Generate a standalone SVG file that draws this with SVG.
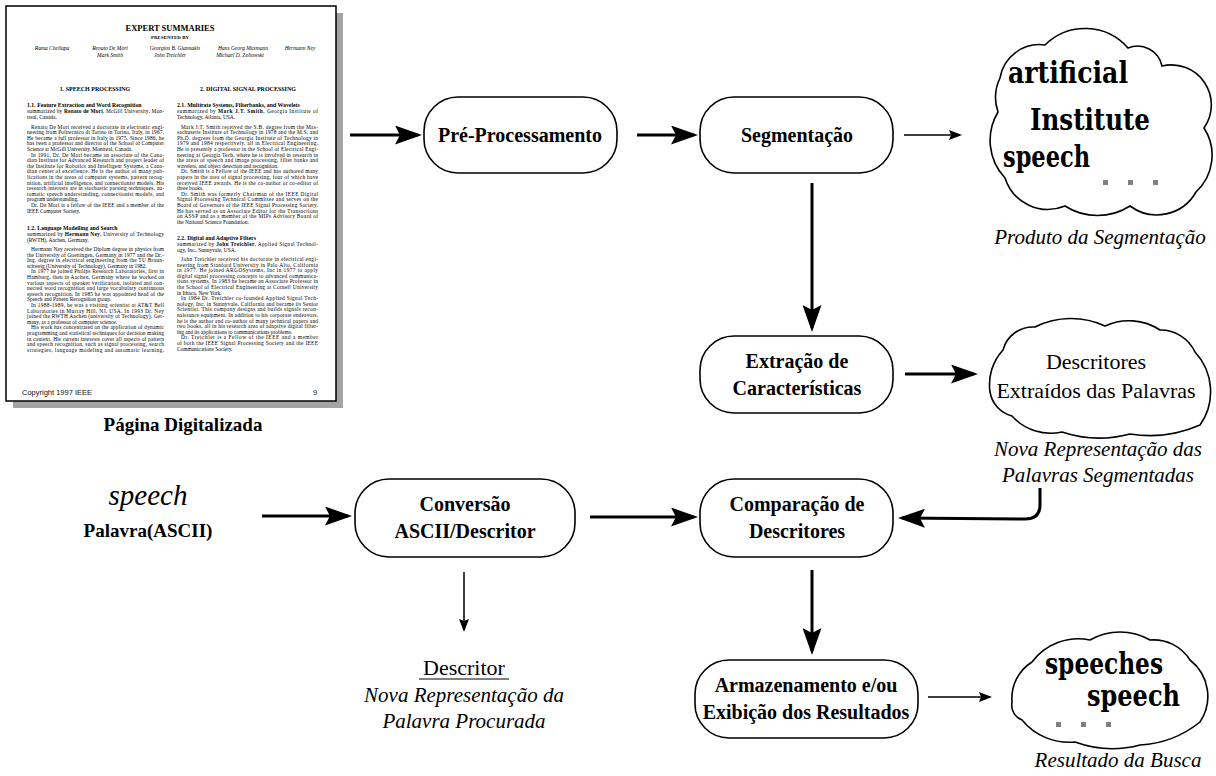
<svg xmlns="http://www.w3.org/2000/svg" width="1216" height="776" viewBox="0 0 1216 776">
<style>
.pg{font-family:"Liberation Serif",serif;font-size:5.4px;fill:#000}
.b{font-weight:bold}
.it{font-style:italic}
.node rect{fill:#fff;stroke:#000;stroke-width:1.6}
.nl{font-family:"Liberation Serif",serif;font-weight:bold;font-size:20px;text-anchor:middle;fill:#000}
.cap{font-family:"Liberation Serif",serif;font-style:italic;font-size:21px;text-anchor:middle;fill:#000}
.rg{font-family:"Liberation Serif",serif;font-size:22px;text-anchor:middle;fill:#000}
.cw{font-family:"DejaVu Serif",serif;font-weight:bold;font-size:29px;fill:#000}
.cloud{fill:#fff;stroke:#000;stroke-width:1.6}
.dot{fill:#808080}
.thick{fill:none;stroke:#000;stroke-width:3;marker-end:url(#ah)}
.thin{fill:none;stroke:#000;stroke-width:1.5;marker-end:url(#as)}
</style>
<defs>
<marker id="ah" viewBox="0 0 27 19" refX="23" refY="9.5" markerWidth="27" markerHeight="19" markerUnits="userSpaceOnUse" orient="auto"><path d="M0,0 L27,9.5 L0,19 L5,9.5 z" fill="#000"/></marker>
<marker id="as" viewBox="0 0 13 10" refX="11" refY="5" markerWidth="13" markerHeight="10" markerUnits="userSpaceOnUse" orient="auto"><path d="M0,0 L13,5 L0,10 L2,5 z" fill="#000"/></marker>
</defs>
<rect width="1216" height="776" fill="#fff"/>

<g id="page">
<rect x="13" y="13" width="330" height="395" fill="#a3a3a3"/>
<rect x="6" y="6" width="330" height="395" fill="#fff" stroke="#000" stroke-width="1.5"/>
<text class="pg b" x="170" y="31" text-anchor="middle" style="font-size:8.5px">EXPERT SUMMARIES</text>
<text class="pg b" x="170" y="39" text-anchor="middle" style="font-size:5px">PRESENTED BY</text>
<g class="pg it" text-anchor="middle" style="font-size:5.5px">
<text x="52" y="50">Rama Chellapa</text>
<text x="110" y="50">Renato De Mori</text>
<text x="175" y="50">Georgios B. Giannakis</text>
<text x="243" y="50">Hans Georg Musmann</text>
<text x="300" y="50">Hermann Ney</text>
<text x="110" y="57">Mark Smith</text>
<text x="170" y="57">John Treichler</text>
<text x="240" y="57">Michael D. Zoltowski</text>
</g>
<text class="pg b" x="95" y="91" text-anchor="middle" style="font-size:6px">1.   SPEECH PROCESSING</text>
<text class="pg b" x="248" y="91" text-anchor="middle" style="font-size:6px">2.   DIGITAL SIGNAL PROCESSING</text>
<g class="pg">
<text class="b" x="27" y="107" style="font-size:5.8px">1.1.   Feature Extraction and Word Recognition</text>
<text x="27" y="113" textLength="137">summarized by <tspan class="b">Renato de Mori</tspan>, McGill University, Mon-</text>
<text x="27" y="119">treal, Canada.</text>
<text x="31" y="128.5" textLength="133">Renato De Mori received a doctorate in electronic engi-</text>
<text x="27" y="134.1" textLength="137">neering from Politecnico di Torino in Torino, Italy, in 1967.</text>
<text x="27" y="139.7" textLength="137">He became a full professor in Italy in 1975. Since 1986, he</text>
<text x="27" y="145.3" textLength="137">has been a professor and director of the School of Computer</text>
<text x="27" y="150.9">Science at McGill University, Montreal, Canada.</text>
<text x="31" y="156.5" textLength="133">In 1991, Dr. De Mori became an associate of the Cana-</text>
<text x="27" y="162.1" textLength="137">dian Institute for Advanced Research and project leader of</text>
<text x="27" y="167.7" textLength="137">the Institute for Robotics and Intelligent Systems, a Cana-</text>
<text x="27" y="173.3" textLength="137">dian center of excellence. He is the author of many pub-</text>
<text x="27" y="178.9" textLength="137">lications in the areas of computer systems, pattern recog-</text>
<text x="27" y="184.5" textLength="137">nition, artificial intelligence, and connectionist models. His</text>
<text x="27" y="190.1" textLength="137">research interests are in stochastic parsing techniques, au-</text>
<text x="27" y="195.7" textLength="137">tomatic speech understanding, connectionist models, and</text>
<text x="27" y="201.3">program understanding.</text>
<text x="31" y="206.9" textLength="133">Dr. De Mori is a fellow of the IEEE and a member of the</text>
<text x="27" y="212.5">IEEE Computer Society.</text>
<text class="b" x="27" y="230" style="font-size:5.8px">1.2.   Language Modelling and Search</text>
<text x="27" y="236" textLength="137">summarized by <tspan class="b">Hermann Ney</tspan>, University of Technology</text>
<text x="27" y="242">(RWTH), Aachen, Germany.</text>
<text x="31" y="251" textLength="133">Hermann Ney received the Diplom degree in physics from</text>
<text x="27" y="256.6" textLength="137">the University of Goettingen, Germany in 1977 and the Dr.-</text>
<text x="27" y="262.2" textLength="137">Ing. degree in electrical engineering from the TU Braun-</text>
<text x="27" y="267.8">schweig (University of Technology), Germany in 1982.</text>
<text x="31" y="273.4" textLength="133">In 1977 he joined Philips Research Laboratories, first in</text>
<text x="27" y="279" textLength="137">Hamburg, then in Aachen, Germany where he worked on</text>
<text x="27" y="284.6" textLength="137">various aspects of speaker verification, isolated and con-</text>
<text x="27" y="290.2" textLength="137">nected word recognition and large vocabulary continuous</text>
<text x="27" y="295.8" textLength="137">speech recognition. In 1985 he was appointed head of the</text>
<text x="27" y="301.4">Speech and Pattern Recognition group.</text>
<text x="31" y="307" textLength="133">In 1988-1989, he was a visiting scientist at AT&amp;T Bell</text>
<text x="27" y="312.6" textLength="137">Laboratories in Murray Hill, NJ, USA. In 1993 Dr. Ney</text>
<text x="27" y="318.2" textLength="137">joined the RWTH Aachen (university of Technology), Ger-</text>
<text x="27" y="323.8">many, as a professor of computer science.</text>
<text x="31" y="329.4" textLength="133">His work has concentrated on the application of dynamic</text>
<text x="27" y="335" textLength="137">programming and statistical techniques for decision making</text>
<text x="27" y="340.6" textLength="137">in context. His current interests cover all aspects of pattern</text>
<text x="27" y="346.2" textLength="137">and speech recognition, such as signal processing, search</text>
<text x="27" y="351.8" textLength="137">strategies, language modeling and automatic learning.</text>

<text class="b" x="177" y="107" style="font-size:5.8px">2.1.   Multirate Systems, Filterbanks, and Wavelets</text>
<text x="177" y="113" textLength="141">summarized by <tspan class="b">Mark J.T. Smith</tspan>, Georgia Institute of</text>
<text x="177" y="119">Technology, Atlanta, USA.</text>
<text x="181" y="128.5" textLength="137">Mark J.T. Smith received the S.B. degree from the Mas-</text>
<text x="177" y="134.1" textLength="141">sachusetts Institute of Technology in 1978 and the M.S. and</text>
<text x="177" y="139.7" textLength="141">Ph.D. degrees from the Georgia Institute of Technology in</text>
<text x="177" y="145.3" textLength="141">1979 and 1984 respectively, all in Electrical Engineering.</text>
<text x="177" y="150.9" textLength="141">He is presently a professor in the School of Electrical Engi-</text>
<text x="177" y="156.5" textLength="141">neering at Georgia Tech, where he is involved in research in</text>
<text x="177" y="162.1" textLength="141">the areas of speech and image processing, filter banks and</text>
<text x="177" y="167.7">wavelets, and object detection and recognition.</text>
<text x="181" y="173.3" textLength="137">Dr. Smith is a Fellow of the IEEE and has authored many</text>
<text x="177" y="178.9" textLength="141">papers in the area of signal processing, four of which have</text>
<text x="177" y="184.5" textLength="141">received IEEE awards. He is the co-author or co-editor of</text>
<text x="177" y="190.1">three books.</text>
<text x="181" y="195.7" textLength="137">Dr. Smith was formerly Chairman of the IEEE Digital</text>
<text x="177" y="201.3" textLength="141">Signal Processing Technical Committee and serves on the</text>
<text x="177" y="206.9" textLength="141">Board of Governors of the IEEE Signal Processing Society.</text>
<text x="177" y="212.5" textLength="141">He has served as an Associate Editor for the Transactions</text>
<text x="177" y="218.1" textLength="141">on ASSP and as a member of the MIPs Advisory Board of</text>
<text x="177" y="223.7">the National Science Foundation.</text>
<text class="b" x="177" y="240" style="font-size:5.8px">2.2.   Digital and Adaptive Filters</text>
<text x="177" y="246" textLength="141">summarized by <tspan class="b">John Treichler</tspan>, Applied Signal Technol-</text>
<text x="177" y="252">ogy, Inc., Sunnyvale, USA.</text>
<text x="181" y="261" textLength="137">John Treichler received his doctorate in electrical engi-</text>
<text x="177" y="266.6" textLength="141">neering from Stanford University in Palo Alto, California</text>
<text x="177" y="272.2" textLength="141">in 1977. He joined ARGOSystems, Inc in 1977 to apply</text>
<text x="177" y="277.8" textLength="141">digital signal processing concepts to advanced communica-</text>
<text x="177" y="283.4" textLength="141">tions systems. In 1983 he became an Associate Professor in</text>
<text x="177" y="289" textLength="141">the School of Electrical Engineering at Cornell University</text>
<text x="177" y="294.6">in Ithaca, New York.</text>
<text x="181" y="300.2" textLength="137">In 1984 Dr. Treichler co-founded Applied Signal Tech-</text>
<text x="177" y="305.8" textLength="141">nology, Inc. in Sunnyvale, California and became its Senior</text>
<text x="177" y="311.4" textLength="141">Scientist. This company designs and builds signals recon-</text>
<text x="177" y="317" textLength="141">naissance equipment. In addition to his corporate endeavors,</text>
<text x="177" y="322.6" textLength="141">he is the author and co-author of many technical papers and</text>
<text x="177" y="328.2" textLength="141">two books, all in his research area of adaptive digital filter-</text>
<text x="177" y="333.8">ing and its applications to communications problems.</text>
<text x="181" y="339.4" textLength="137">Dr. Treichler is a Fellow of the IEEE and a member</text>
<text x="177" y="345" textLength="141">of both the IEEE Signal Processing Society and the IEEE</text>
<text x="177" y="350.6">Communications Society.</text>
</g>
<text x="22" y="395" style="font-family:'Liberation Sans',sans-serif;font-size:7.5px;fill:#111">Copyright 1997 IEEE</text>
<text x="313" y="395" style="font-family:'Liberation Sans',sans-serif;font-size:7.5px;fill:#111">9</text>
</g>
<text id="page-label" class="nl" x="183" y="431" style="font-size:19px">Página Digitalizada</text>

<g id="connectors">
<line class="thick" x1="350" y1="135" x2="418" y2="135"/>
<line class="thick" x1="637" y1="135" x2="694" y2="135"/>
<line class="thin" x1="904" y1="135" x2="960" y2="135"/>
<line class="thick" x1="812" y1="183" x2="812" y2="328"/>
<line class="thick" x1="905" y1="374" x2="974" y2="374"/>
<path class="thick" d="M1040,488 L1040,505 Q1040,519 1025,519 L902,518"/>
<line class="thick" x1="262" y1="516" x2="348" y2="516"/>
<line class="thick" x1="590" y1="517" x2="694" y2="517"/>
<line class="thin" x1="464" y1="572" x2="464" y2="630"/>
<line class="thick" x1="812" y1="570" x2="812" y2="651"/>
<line class="thin" x1="928" y1="697" x2="990" y2="697"/>
</g>

<g id="n-pre" class="node">
<rect x="424" y="97" width="193" height="76" rx="34"/>
<text class="nl" x="520" y="142">Pré-Processamento</text>
</g>
<g id="n-seg" class="node">
<rect x="700" y="97" width="193" height="76" rx="34"/>
<text class="nl" x="797" y="142">Segmentação</text>
</g>
<g id="n-ext" class="node">
<rect x="700" y="336" width="193" height="77" rx="34"/>
<text class="nl" x="797" y="368">Extração de</text>
<text class="nl" x="797" y="395">Características</text>
</g>
<g id="n-comp" class="node">
<rect x="700" y="479" width="193" height="78" rx="34"/>
<text class="nl" x="797" y="511">Comparação de</text>
<text class="nl" x="797" y="538">Descritores</text>
</g>
<g id="n-arm" class="node">
<rect x="695" y="660" width="223" height="78" rx="34"/>
<text class="nl" x="806" y="692">Armazenamento e/ou</text>
<text class="nl" x="806" y="719">Exibição dos Resultados</text>
</g>
<g id="n-conv" class="node">
<rect x="355" y="479" width="220" height="78" rx="34"/>
<text class="nl" x="465" y="511">Conversão</text>
<text class="nl" x="465" y="538">ASCII/Descritor</text>
</g>

<g id="n-word">
<text x="148" y="505" style="font-family:'Liberation Serif',serif;font-style:italic;font-size:29px;text-anchor:middle">speech</text>
<text class="nl" x="148" y="537" style="font-size:19px">Palavra(ASCII)</text>
</g>

<g id="n-desc">
<text class="rg" x="464" y="675">Descritor</text>
<line x1="419" y1="679" x2="509" y2="679" stroke="#000" stroke-width="1.2"/>
<text class="cap" x="464" y="702">Nova Representação da</text>
<text class="cap" x="464" y="728">Palavra Procurada</text>
</g>

<g id="cloud-seg">
<path class="cloud" d="M998,112 A45,45 0 0 1 1000,78 A40,40 0 0 1 1045,45 A57,57 0 0 1 1128,48 A25,25 0 0 1 1162,66 A40,40 0 0 1 1204,128 A50,50 0 0 1 1196,192 A45,45 0 0 1 1130,206 A60,60 0 0 1 1065,206 A45,45 0 0 1 1005,178 A55,55 0 0 1 998,112 Z"/>
<text class="cw" x="1008" y="83" textLength="120" lengthAdjust="spacingAndGlyphs">artificial</text>
<text class="cw" x="1030" y="130" textLength="120" lengthAdjust="spacingAndGlyphs">Institute</text>
<text class="cw" x="1003" y="167" textLength="87" lengthAdjust="spacingAndGlyphs">speech</text>
<rect class="dot" x="1103" y="180" width="5" height="5"/>
<rect class="dot" x="1128" y="180" width="5" height="5"/>
<rect class="dot" x="1153" y="180" width="5" height="5"/>
<text class="cap" x="1100" y="244">Produto da Segmentação</text>
</g>

<g id="cloud-desc">
<path class="cloud" d="M990,392 A51,51 0 0 1 1003,350 A31,31 0 0 1 1035,327 A81,81 0 0 1 1105,326 A57,57 0 0 1 1160,330 A38,38 0 0 1 1195,352 A58,58 0 0 1 1200,425 A125,125 0 0 1 1130,434 A118,118 0 0 1 1062,432 A52,52 0 0 1 1012,416 A30,30 0 0 1 990,392 Z"/>
<text class="rg" x="1096" y="369">Descritores</text>
<text class="rg" x="1096" y="398">Extraídos das Palavras</text>
<text class="cap" x="1098" y="456">Nova Representação das</text>
<text class="cap" x="1098" y="482">Palavras Segmentadas</text>
</g>

<g id="cloud-res">
<path class="cloud" d="M1012,702 A43,43 0 0 1 1032,662 A58,58 0 0 1 1090,640 A60,60 0 0 1 1150,640 A43,43 0 0 1 1190,660 A46,46 0 0 1 1200,722 A105,105 0 0 1 1140,745 A108,108 0 0 1 1075,742 A61,61 0 0 1 1022,720 A16,16 0 0 1 1012,702 Z"/>
<text class="cw" x="1045" y="674" textLength="118" lengthAdjust="spacingAndGlyphs">speeches</text>
<text class="cw" x="1087" y="706" textLength="93" lengthAdjust="spacingAndGlyphs">speech</text>
<rect class="dot" x="1056" y="722" width="5" height="5"/>
<rect class="dot" x="1081" y="722" width="5" height="5"/>
<rect class="dot" x="1106" y="722" width="5" height="5"/>
<text class="cap" x="1118" y="767">Resultado da Busca</text>
</g>
</svg>
